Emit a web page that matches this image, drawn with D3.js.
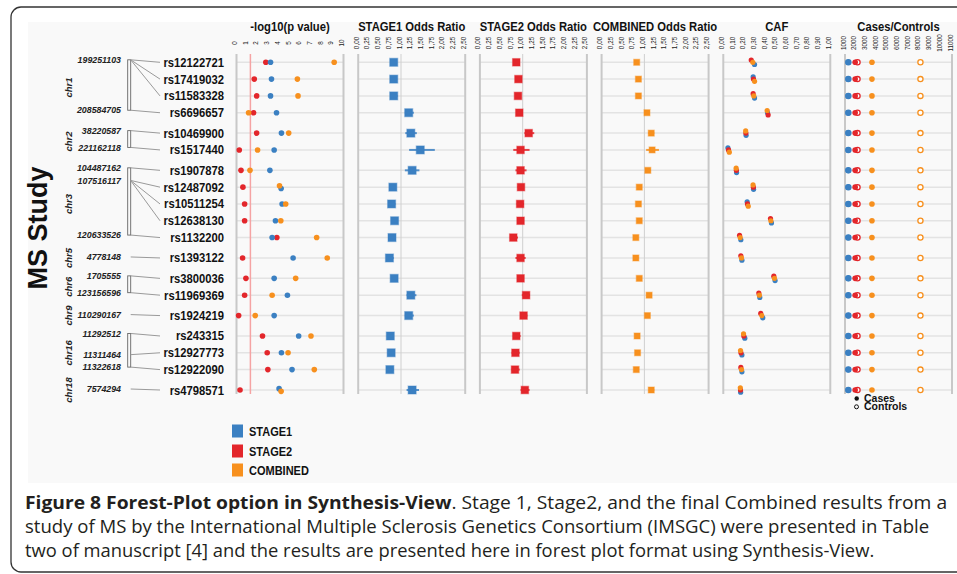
<!DOCTYPE html>
<html lang="en">
<head>
<meta charset="utf-8">
<title>Forest plot - MS Study</title>
<script src="https://cdn.jsdelivr.net/npm/d3@7"></script>
<style>
  body { margin: 0; background: #fff; }
  svg { display: block; font-family: Arial, "Liberation Sans", sans-serif; }
</style>
</head>
<body>
<svg id="chart" width="957" height="574"></svg>
<script>
// ---- data ----
var snps = ["rs12122721","rs17419032","rs11583328","rs6696657","rs10469900","rs1517440","rs1907878",
            "rs12487092","rs10511254","rs12638130","rs1132200","rs1393122","rs3800036","rs11969369",
            "rs1924219","rs243315","rs12927773","rs12922090","rs4798571"];
var chrom = ["chr1","chr1","chr1","chr1","chr2","chr2","chr3","chr3","chr3","chr3","chr3",
             "chr5","chr6","chr6","chr9","chr16","chr16","chr16","chr18"];
var position = [199251103,199262000,199270000,208584705,38220587,221162118,104487162,
                107516117,107530000,107545000,120633526,4778148,1705555,123156596,
                110290167,11292512,11311464,11322618,7574294];

var studies = ["STAGE1","STAGE2","COMBINED"];
var colors = ["#3b80c2","#e3262b","#f7901e"];

// -log10(p value)
var logp1 = [3.18,3.27,3.18,3.74,4.2,3.52,3.12,4.17,4.26,3.64,3.33,5.29,3.52,4.76,3.52,5.81,4.2,5.19,3.98];
var logp2 = [2.74,1.66,1.88,1.6,1.88,0.26,0.42,0.6,0.76,0.76,3.77,0.57,0.88,0.76,0.2,2.43,2.87,2.93,0.33];
var logpC = [9.13,5.69,5.75,1.13,4.88,1.97,1.26,4.02,4.6,4.14,7.49,8.48,5.53,3.33,1.75,6.96,4.82,7.27,4.17];

// odds ratios with lower / upper CI
var or1   = [0.83,0.83,0.83,1.18,1.23,1.45,1.26,0.81,0.78,0.85,0.79,0.73,0.84,1.23,1.18,0.75,0.77,0.74,1.26];
var or1Lo = [0.75,0.75,0.75,1.09,1.10,1.19,1.09,0.74,0.70,0.78,0.71,0.65,0.77,1.13,1.09,0.67,0.69,0.66,1.13];
var or1Hi = [0.91,0.91,0.92,1.30,1.37,1.79,1.43,0.88,0.87,0.92,0.88,0.83,0.93,1.36,1.30,0.83,0.86,0.83,1.42];
var or2   = [0.85,0.90,0.89,0.92,1.14,0.95,0.95,0.96,0.94,0.95,0.78,0.95,0.95,1.08,1.02,0.85,0.83,0.82,1.05];
var or2Lo = [0.78,0.84,0.82,0.85,1.04,0.78,0.83,0.88,0.86,0.87,0.70,0.83,0.87,0.98,0.94,0.77,0.74,0.74,0.95];
var or2Hi = [0.92,0.98,0.96,0.99,1.27,1.16,1.09,1.03,1.03,1.02,0.89,1.07,1.02,1.17,1.11,0.95,0.93,0.93,1.16];
var orC   = [0.82,0.86,0.86,1.06,1.16,1.18,1.08,0.88,0.86,0.88,0.80,0.80,0.88,1.11,1.07,0.83,0.84,0.81,1.16];
var orCLo = [0.78,0.81,0.81,1.01,1.09,1.04,1.02,0.83,0.81,0.84,0.75,0.75,0.83,1.06,1.02,0.78,0.79,0.76,1.10];
var orCHi = [0.87,0.91,0.91,1.11,1.23,1.34,1.15,0.92,0.90,0.93,0.85,0.86,0.93,1.17,1.13,0.88,0.89,0.86,1.23];

// coded allele frequency
var caf1 = [0.292,0.279,0.292,0.413,0.213,0.043,0.124,0.283,0.223,0.450,0.164,0.174,0.484,0.341,0.369,0.201,0.174,0.174,0.162];
var caf2 = [0.261,0.282,0.279,0.419,0.211,0.049,0.122,0.281,0.226,0.441,0.152,0.164,0.472,0.332,0.350,0.192,0.165,0.164,0.161];
var cafC = [0.276,0.292,0.285,0.410,0.209,0.056,0.120,0.278,0.233,0.445,0.158,0.170,0.478,0.337,0.360,0.189,0.161,0.170,0.159];

// cases / controls per study
var cases    = [1310,1950,3520];
var controls = [1310,2170,8050];

var panelTitles = ["-log10(p value)","STAGE1 Odds Ratio","STAGE2 Odds Ratio","COMBINED Odds Ratio","CAF","Cases/Controls"];
var pTicks  = d3.range(0, 11);
var orTicks = d3.range(0, 2.51, 0.25);
var cafTicks = d3.range(0, 1.001, 0.1);
var ccTicks = d3.range(1000, 11001, 1000);

var captionLines = [
  [["Figure 8 Forest-Plot option in Synthesis-View", true], [". Stage 1, Stage2, and the final Combined results from a", false]],
  [["study of MS by the International Multiple Sclerosis Genetics Consortium (IMSGC) were presented in Table", false]],
  [["two of manuscript [4] and the results are presented here in forest plot format using Synthesis-View.", false]]
];
var captionWidths = [923, 905, 850];

// ---- layout ----
var svg = d3.select("#chart");
var comma = function(f){ return function(d){ return d3.format(f)(d).replace(".", ","); }; };

svg.append("rect").attr("x", 28).attr("y", 22).attr("width", 940).attr("height", 461).attr("fill", "#f9f9f9");
svg.append("rect").attr("x", 11).attr("y", 7).attr("width", 1000).attr("height", 565)
   .attr("rx", 10).attr("fill", "none").attr("stroke", "#333").attr("stroke-width", 1.3);

// row positions: small extra gap between chromosomes
var rowIdx = [], gi = 0;
chrom.forEach(function(c, i){ if (i > 0 && c !== chrom[i-1]) gi++; rowIdx.push(i + gi * 0.214); });
var y = d3.scaleLinear().domain([0, d3.max(rowIdx)]).range([62.3, 390]);
var rowY = rowIdx.map(function(d){ return y(d); });

// dodge points that overlap in the same row
function dodge(vals, xs, thresh, step) {
  var pts = vals.map(function(v, k){ return {k: k, x: xs(v)}; });
  pts.sort(function(a, b){ return a.x - b.x || b.k - a.k; });
  var off = [0, 0, 0], cl = [[pts[0]]];
  for (var j = 1; j < pts.length; j++) {
    if (pts[j].x - pts[j-1].x < thresh) cl[cl.length-1].push(pts[j]); else cl.push([pts[j]]);
  }
  cl.forEach(function(c){ c.forEach(function(p, n){ off[p.k] = (n - (c.length - 1) / 2) * step; }); });
  return off;
}

var panelLeft = 236.5, panelStep = 121.7, panelW = 107, plotTop = 54, plotBottom = 394;

var panels = [
  {domain: [0, 10], ticks: pTicks, fmt: d3.format("d")},
  {domain: [0, 2.5], ticks: orTicks, fmt: comma(".2f"), or: [or1, or1Lo, or1Hi], c: 0, size: 8},
  {domain: [0, 2.5], ticks: orTicks, fmt: comma(".2f"), or: [or2, or2Lo, or2Hi], c: 1, size: 7.5},
  {domain: [0, 2.5], ticks: orTicks, fmt: comma(".2f"), or: [orC, orCLo, orCHi], c: 2, size: 6},
  {domain: [0, 1], ticks: cafTicks, fmt: comma(".2f")},
  {domain: [1000, 11000], ticks: ccTicks, fmt: d3.format("d")}
];

panels.forEach(function(p, i){
  var x0 = panelLeft + i * panelStep;
  var xs = d3.scaleLinear().domain(p.domain).range([x0, x0 + panelW]);
  var g = svg.append("g");

  g.append("text").attr("transform", "translate(" + (x0 + panelW / 2) + ",31) scale(0.9,1)")
   .attr("text-anchor", "middle").attr("font-weight", "bold").attr("font-size", 12.5)
   .attr("fill", "#111").text(panelTitles[i]);

  var ax = g.append("g").attr("transform", "translate(0,43)")
    .call(d3.axisTop(xs).tickValues(p.ticks).tickFormat(p.fmt).tickSize(0))
    .attr("font-size", null).attr("font-family", null);
  ax.select(".domain").remove();
  ax.selectAll("text").attr("transform", "rotate(-90)").attr("x", 0).attr("y", 0).attr("dy", "0")
    .attr("text-anchor", "middle").attr("font-size", 6.3).attr("fill", "#222");

  g.selectAll(".grid").data(rowY).enter().append("line")
   .attr("x1", x0).attr("x2", x0 + panelW).attr("y1", function(d){ return d; }).attr("y2", function(d){ return d; })
   .attr("stroke", "#e3e3e3").attr("stroke-width", 1.5);
  [x0, x0 + panelW].forEach(function(bx){
    g.append("line").attr("x1", bx).attr("x2", bx).attr("y1", plotTop).attr("y2", plotBottom)
     .attr("stroke", "#c8c8c8").attr("stroke-width", 2);
  });

  if (i === 0) {
    g.append("line").attr("x1", xs(1.3)).attr("x2", xs(1.3)).attr("y1", plotTop).attr("y2", plotBottom)
     .attr("stroke", "#f5a3a3").attr("stroke-width", 1.5);
    var sets = [logp1, logp2, logpC];
    rowY.forEach(function(ry, r){
      var off = dodge([logp1[r], logp2[r], logpC[r]], xs, 3, 2.7);
      [1, 0, 2].forEach(function(k){
        g.append("circle").attr("cx", xs(sets[k][r])).attr("cy", ry + off[k]).attr("r", 2.8).attr("fill", colors[k]);
      });
    });
  }
  if (p.or) {
    g.append("line").attr("x1", xs(1)).attr("x2", xs(1)).attr("y1", plotTop).attr("y2", plotBottom)
     .attr("stroke", "#cfcfcf").attr("stroke-width", 1);
    g.selectAll(".ci").data(rowY).enter().append("line")
     .attr("x1", function(d, r){ return xs(p.or[1][r]); }).attr("x2", function(d, r){ return xs(p.or[2][r]); })
     .attr("y1", function(d){ return d; }).attr("y2", function(d){ return d; })
     .attr("stroke", colors[p.c]).attr("stroke-opacity", 0.85).attr("stroke-width", 2);
    g.selectAll(".sq").data(rowY).enter().append("rect")
     .attr("x", function(d, r){ return xs(p.or[0][r]) - p.size / 2; }).attr("y", function(d){ return d - p.size / 2; })
     .attr("width", p.size).attr("height", p.size).attr("fill", colors[p.c])
     .attr("stroke", colors[p.c]).attr("stroke-opacity", 0.4).attr("stroke-width", 1.2);
  }
  if (i === 4) {
    var cs = [caf1, caf2, cafC];
    rowY.forEach(function(ry, r){
      var off = dodge([caf1[r], caf2[r], cafC[r]], xs, 6, 2.2);
      [0, 1, 2].forEach(function(k){
        g.append("circle").attr("cx", xs(cs[k][r])).attr("cy", ry + off[k]).attr("r", 2.6).attr("fill", colors[k]);
      });
    });
  }
  if (i === 5) {
    rowY.forEach(function(ry){
      studies.forEach(function(s, k){
        g.append("circle").attr("cx", xs(controls[k])).attr("cy", ry).attr("r", 2.6)
         .attr("fill", "#fff").attr("stroke", colors[k]).attr("stroke-width", 1.3);
        g.append("circle").attr("cx", xs(cases[k])).attr("cy", ry).attr("r", 2.8).attr("fill", colors[k]);
      });
    });
    g.append("circle").attr("cx", 856.7).attr("cy", 398.5).attr("r", 2.2).attr("fill", "#111");
    g.append("circle").attr("cx", 856.5).attr("cy", 406.8).attr("r", 2).attr("fill", "none").attr("stroke", "#111").attr("stroke-width", 1);
    g.append("text").attr("x", 864).attr("y", 401.5).attr("font-weight", "bold").attr("font-size", 10.5).attr("fill", "#111").text("Cases");
    g.append("text").attr("x", 864).attr("y", 410.3).attr("font-weight", "bold").attr("font-size", 10.5).attr("fill", "#111").text("Controls");
  }
});

// ---- left side: study label, chromosomes, positions, snps ----
svg.append("text").attr("transform", "translate(47,228) rotate(-90)").attr("text-anchor", "middle")
   .attr("font-weight", "bold").attr("font-size", 27).attr("fill", "#111").text("MS Study");

var groups = d3.groups(snps.map(function(s, i){ return {snp: s, chr: chrom[i], pos: position[i], y: rowY[i]}; }),
                       function(d){ return d.chr; });
groups.forEach(function(gr){
  var rows = gr[1];
  var first = rows[0], last = rows[rows.length - 1];
  var py = d3.scaleLinear().domain(d3.extent(rows, function(d){ return d.pos; })).range([first.y - 2.5, last.y - 2.5]);
  if (rows.length === 1) py = function(){ return first.y - 1; };

  svg.append("text").attr("transform", "translate(72," + ((first.y + last.y) / 2) + ") rotate(-90)")
     .attr("text-anchor", "middle").attr("font-weight", "bold").attr("font-style", "italic")
     .attr("font-size", 9.5).attr("fill", "#222").text(gr[0]);

  var y0 = py(d3.min(rows, function(d){ return d.pos; })), y1 = py(d3.max(rows, function(d){ return d.pos; }));
  svg.append("rect").attr("x", 127.7).attr("y", y0).attr("width", 3).attr("height", Math.max(0, y1 - y0))
     .attr("fill", "none").attr("stroke", "#666").attr("stroke-width", 0.9);

  var shown = [];
  rows.forEach(function(d){
    var yy = py(d.pos);
    svg.append("line").attr("x1", 130.7).attr("y1", yy).attr("x2", 160).attr("y2", d.y)
       .attr("stroke", "#9a9a9a").attr("stroke-width", 1);
    if (shown.every(function(s){ return Math.abs(s - yy) > 9; })) {
      shown.push(yy);
      svg.append("text").attr("x", 121).attr("y", yy).attr("dy", "0.35em").attr("text-anchor", "end")
         .attr("font-weight", "bold").attr("font-style", "italic").attr("font-size", 8.8).attr("fill", "#222")
         .text(d.pos);
    }
  });
});

svg.selectAll(".snp").data(snps).enter().append("text")
   .attr("transform", function(d, i){ return "translate(224," + rowY[i] + ") scale(0.9,1)"; })
   .attr("dy", "0.36em").attr("text-anchor", "end").attr("font-weight", "bold").attr("font-size", 12.5)
   .attr("fill", "#111").text(function(d){ return d; });

// ---- legend ----
var legY = [431, 451, 470];
studies.forEach(function(s, k){
  svg.append("rect").attr("x", 232).attr("y", legY[k] - 6.5).attr("width", 11).attr("height", 13).attr("fill", colors[k]);
  svg.append("text").attr("transform", "translate(249," + (legY[k] + 4.5) + ") scale(0.88,1)")
     .attr("font-weight", "bold").attr("font-size", 12.5).attr("fill", "#111").text(s);
});

// ---- caption ----
captionLines.forEach(function(line, li){
  var t = svg.append("text").attr("x", 0).attr("y", 0).attr("font-family", "'Open Sans', sans-serif")
     .attr("font-size", 18).attr("fill", "#231f20");
  line.forEach(function(part){
    t.append("tspan").attr("font-weight", part[1] ? "bold" : "normal").text(part[0]);
  });
  var sx = captionWidths[li] / t.node().getComputedTextLength();
  t.attr("transform", "translate(25," + (509 + li * 24) + ") scale(" + sx + ",1)");
});
</script>
</body>
</html>
